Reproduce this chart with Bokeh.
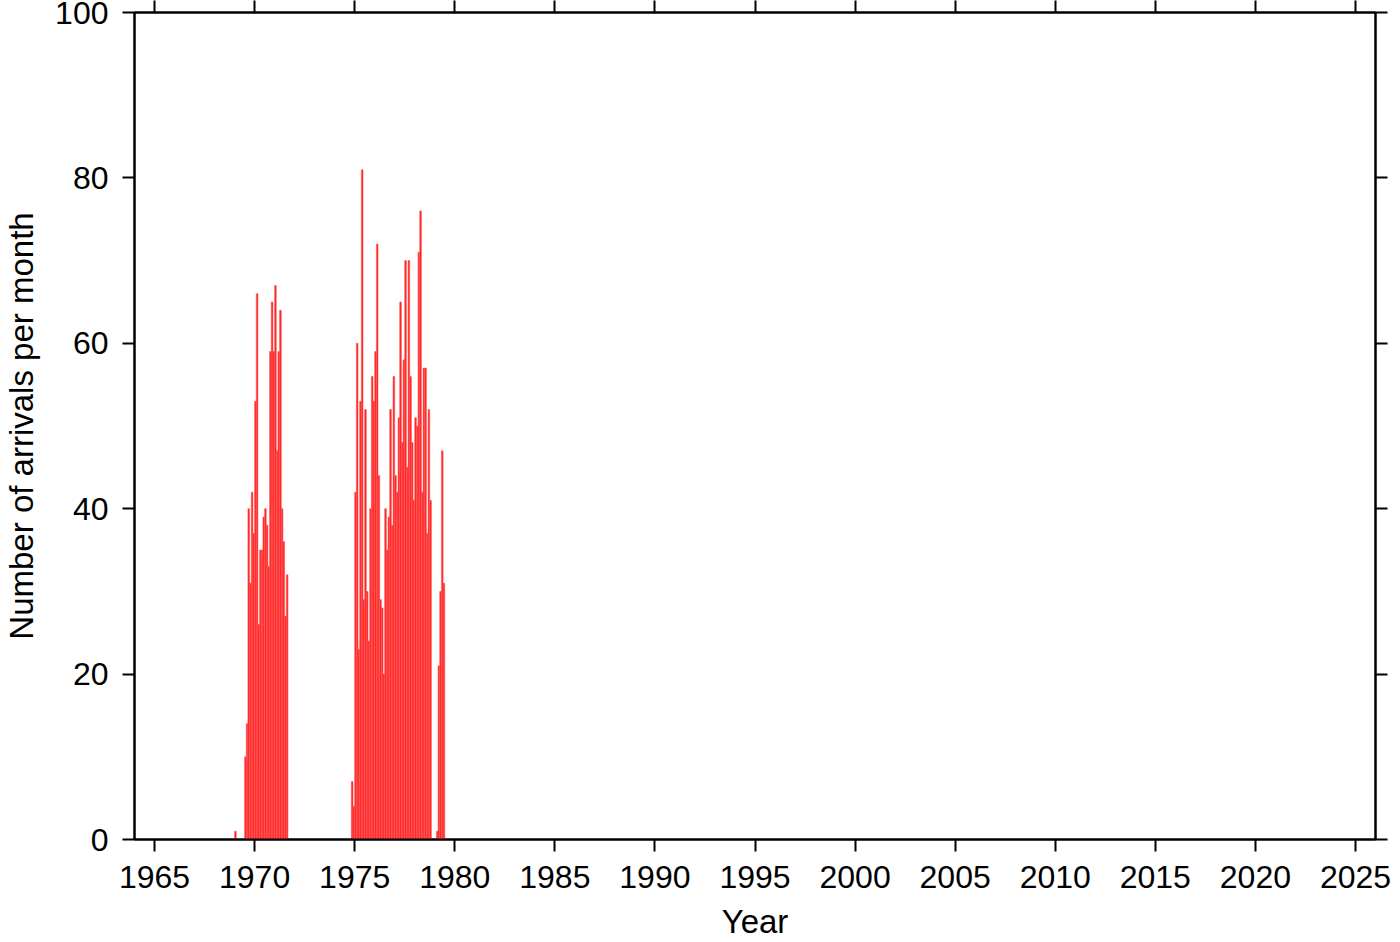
from bokeh.plotting import figure
from bokeh.models import LinearAxis, FixedTicker, Range1d, ColumnDataSource
from bokeh.embed import file_html
from bokeh.resources import INLINE

# Monthly arrival counts
single_start = (1969, 1)
single_counts = [1]

cluster1_start = (1969, 7)   # Jul 1969 - Aug 1971
cluster1_counts = [10, 14, 40, 31, 42, 37, 53, 66, 26, 35, 35, 39, 40, 38, 33,
                   59, 65, 59, 67, 47, 59, 64, 40, 36, 27, 32]

cluster2_start = (1974, 11)  # Nov 1974 - Oct 1978
cluster2_counts = [7, 4, 42, 60, 23, 53, 81, 29, 52, 30, 24, 40, 56, 53, 59, 72,
                   44, 29, 28, 20, 40, 35, 39, 52, 38, 56, 44, 42, 51, 65, 48, 58,
                   70, 45, 70, 56, 48, 41, 51, 50, 71, 76, 42, 57, 57, 37, 52, 41]

cluster3_start = (1979, 2)   # Feb 1979 - Jun 1979
cluster3_counts = [1, 21, 30, 47, 31]

x_ticks = [1965, 1970, 1975, 1980, 1985, 1990, 1995, 2000, 2005, 2010, 2015, 2020, 2025]
y_ticks = [0, 20, 40, 60, 80, 100]

xs, ys = [], []
for (yr, mo), counts in [(single_start, single_counts), (cluster1_start, cluster1_counts),
                         (cluster2_start, cluster2_counts), (cluster3_start, cluster3_counts)]:
    for i, c in enumerate(counts):
        m = (mo - 1) + i
        xs.append(yr + m / 12.0 + 1 / 24.0)
        ys.append(c)
src = ColumnDataSource(dict(x=xs, top=ys))

FONT = "Liberation Sans"

p = figure(width=1400, height=942, output_backend="svg", toolbar_location=None,
           x_range=Range1d(1964, 2026), y_range=Range1d(0, 100),
           min_border_left=134, min_border_top=12, min_border_right=25, min_border_bottom=103,
           x_axis_label="Year", y_axis_label="Number of arrivals per month")
p.background_fill_color = "white"
p.border_fill_color = "white"
p.outline_line_color = "black"
p.outline_line_width = 2
p.xgrid.visible = False
p.ygrid.visible = False

p.vbar(x="x", top="top", width=1 / 12.0, source=src,
       fill_color="#ff1e1e", line_color="#ff5a5a", line_width=0.6)

def style(ax, ticks):
    ax.ticker = FixedTicker(ticks=ticks)
    ax.axis_line_width = 2
    ax.axis_line_color = "black"
    ax.major_tick_line_width = 2
    ax.major_tick_line_color = "black"
    ax.major_tick_out = 12
    ax.major_tick_in = 0
    ax.minor_tick_out = 0
    ax.minor_tick_in = 0
    ax.major_label_text_font = FONT
    ax.major_label_text_font_size = "32px"
    ax.major_label_text_color = "black"
    ax.major_label_text_line_height = 1.0
    ax.axis_label_text_font = FONT
    ax.axis_label_text_font_size = "33px"
    ax.axis_label_text_font_style = "normal"
    ax.axis_label_text_color = "black"
    ax.axis_label_text_line_height = 1.0

xa = p.xaxis[0]
style(xa, x_ticks)
xa.major_label_standoff = 14
xa.axis_label_standoff = 12

ya = p.yaxis[0]
style(ya, y_ticks)
ya.major_label_standoff = 14
ya.axis_label_standoff = 12

top_ax = LinearAxis()
style(top_ax, x_ticks)
top_ax.major_label_overrides = {t: "" for t in x_ticks}
top_ax.major_label_text_font_size = "0px"
top_ax.major_label_standoff = 0
p.add_layout(top_ax, "above")

right_ax = LinearAxis()
style(right_ax, y_ticks)
right_ax.major_label_overrides = {t: "" for t in y_ticks}
right_ax.major_label_text_font_size = "0px"
right_ax.major_label_standoff = 0
p.add_layout(right_ax, "right")

open("out.html", "w").write(file_html(p, INLINE))
